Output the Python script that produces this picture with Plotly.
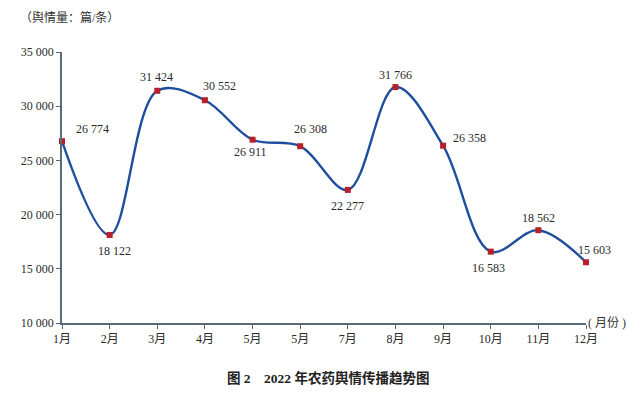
import plotly.graph_objects as go

months = ["1月", "2月", "3月", "4月", "5月", "5月", "7月", "8月", "9月", "10月", "11月", "12月"]
values = [26774, 18122, 31424, 30552, 26911, 26308, 22277, 31766, 26358, 16583, 18562, 15603]
labels = ["26 774", "18 122", "31 424", "30 552", "26 911", "26 308", "22 277", "31 766", "26 358", "16 583", "18 562", "15 603"]
y_ticks = [10000, 15000, 20000, 25000, 30000, 35000]
y_tick_text = ["10 000", "15 000", "20 000", "25 000", "30 000", "35 000"]

xs = list(range(1, len(months) + 1))

SERIF = "Liberation Serif, Times New Roman, Noto Sans CJK SC, serif"
AXIS_C = "#5b6a78"

fig = go.Figure()
fig.add_trace(go.Scatter(
    x=xs, y=values, mode="lines+markers",
    line=dict(color="#1f4e9e", width=2.4, shape="spline", smoothing=1.0),
    marker=dict(symbol="square", size=6, color="#b5202a"),
    hoverinfo="skip", showlegend=False, cliponaxis=False,
))

# label offsets (pixels, +y = down) per point
offsets = [(30, -12), (5, 16), (-1, -14), (15, -14), (-2, 12), (10, -17), (0, 16), (0, -12), (26, -8), (-2, 16), (0, -12), (8, -12)]
for x, y, t, (ax, ay) in zip(xs, values, labels, offsets):
    fig.add_annotation(x=x, y=y, text=t, showarrow=False, xshift=ax, yshift=-ay,
                       font=dict(family=SERIF, size=12, color="#2a2a2a"))

fig.add_annotation(xref="paper", yref="paper", x=1.0, y=0, text="( 月份 )", showarrow=False,
                   xanchor="left", yanchor="middle", xshift=0,
                   font=dict(family=SERIF, size=12, color="#333"))
fig.add_annotation(xref="paper", yref="paper", x=0, y=1, text="（舆情量：篇/条）", showarrow=False,
                   xanchor="center", yanchor="middle", xshift=7, yshift=35,
                   font=dict(family=SERIF, size=12, color="#333"))
fig.add_annotation(xref="paper", yref="paper", x=0.5, y=0, text="<b>图 2    2022 年农药舆情传播趋势图</b>", showarrow=False,
                   xanchor="center", yanchor="middle", yshift=-55, xshift=4,
                   font=dict(family=SERIF, size=13.5, color="#222"))

fig.update_xaxes(range=[1, 12], tickvals=xs, ticktext=months, showgrid=False, zeroline=False,
                 showline=True, linecolor=AXIS_C, linewidth=1.5, ticks="outside", ticklen=4,
                 tickcolor=AXIS_C, tickfont=dict(family=SERIF, size=12, color="#2a2a2a"))
fig.update_yaxes(range=[10000, 35000], tickvals=y_ticks, ticktext=y_tick_text, showgrid=False,
                 zeroline=False, showline=True, linecolor=AXIS_C, linewidth=1.5, ticks="outside",
                 ticklen=4, tickcolor=AXIS_C, tickfont=dict(family=SERIF, size=12, color="#2a2a2a"))

fig.update_layout(width=636, height=385, margin=dict(l=54, r=58, t=44, b=70, autoexpand=False),
                  plot_bgcolor="white", paper_bgcolor="white")
fig.write_html("out.html")
